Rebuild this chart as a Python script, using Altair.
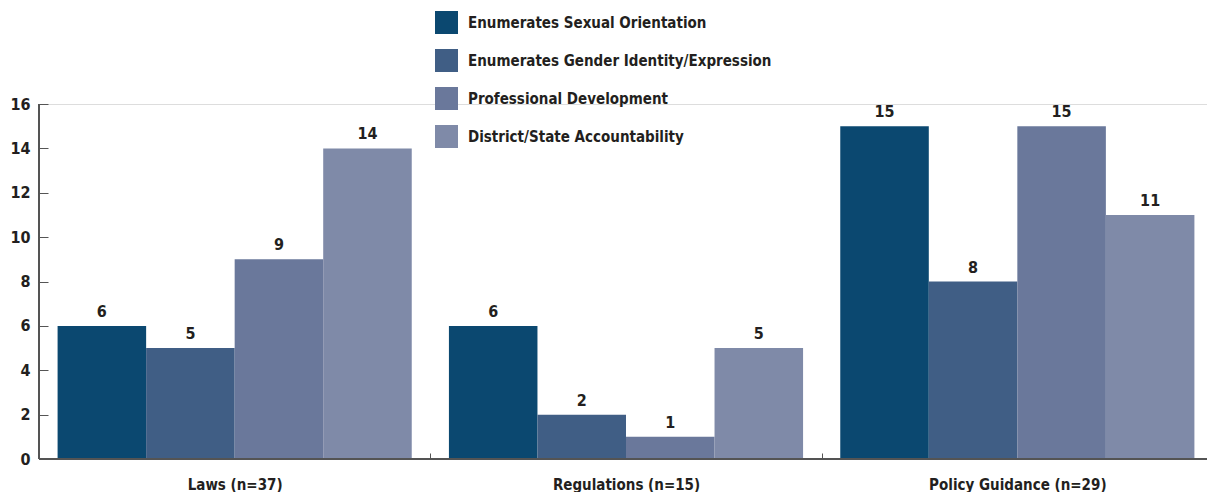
import altair as alt
import pandas as pd

groups = ["Laws (n=37)", "Regulations (n=15)", "Policy Guidance (n=29)"]
series = [
    "Enumerates Sexual Orientation",
    "Enumerates Gender Identity/Expression",
    "Professional Development",
    "District/State Accountability",
]
values = {
    "Enumerates Sexual Orientation": [6, 6, 15],
    "Enumerates Gender Identity/Expression": [5, 2, 8],
    "Professional Development": [9, 1, 15],
    "District/State Accountability": [14, 5, 11],
}
colors = ["#0b4870", "#405e85", "#6a789b", "#7f8aa8"]

rows = []
for s in series:
    for g, v in zip(groups, values[s]):
        rows.append({"group": g, "series": s, "value": v})
df = pd.DataFrame(rows)

FONT = "Liberation Sans Narrow, DejaVu Sans Condensed, sans-serif"
TXT = "#231f20"
W, H = 1174, 355

x = alt.X("group:N", sort=groups, title=None,
          scale=alt.Scale(paddingInner=0, paddingOuter=0),
          axis=alt.Axis(labelAngle=0, domain=False, tickBand="extent",
                        tickSize=6, offset=-6, tickColor="#555", tickWidth=1,
                        labelPadding=18, labelFont=FONT, labelFontSize=15,
                        labelFontWeight="bold", labelColor=TXT))
xo = alt.XOffset("series:N", sort=series,
                 scale=alt.Scale(paddingInner=0, paddingOuter=0.21))
y = alt.Y("value:Q", title=None,
          scale=alt.Scale(domain=[0, 16], nice=False),
          axis=alt.Axis(values=list(range(0, 17, 2)), domain=False, grid=False,
                        tickSize=9, offset=-9, tickColor="#555", tickWidth=1,
                        labelPadding=9, labelFont=FONT, labelFontSize=16,
                        labelFontWeight="bold", labelColor=TXT))

bars = alt.Chart(df).mark_bar().encode(
    x=x, xOffset=xo, y=y,
    color=alt.Color("series:N", sort=series,
                    scale=alt.Scale(domain=series, range=colors),
                    legend=alt.Legend(title=None, orient="none", legendX=396, legendY=-93,
                                      symbolType="square", symbolSize=529,
                                      symbolStrokeWidth=0, symbolOpacity=1,
                                      rowPadding=15, labelOffset=10,
                                      labelFont=FONT, labelFontSize=15,
                                      labelFontWeight="bold", labelColor=TXT,
                                      labelLimit=400)),
)

labels = alt.Chart(df).mark_text(
    baseline="bottom", dy=-6, font=FONT, fontSize=16, fontWeight="bold", color=TXT
).encode(x=alt.X("group:N", sort=groups), xOffset=alt.XOffset("series:N", sort=series),
         y="value:Q", text="value:Q")

base_line = alt.Chart(df).mark_rule(color="#555", strokeWidth=1.5).encode(
    y=alt.datum(0)
)
left_line = alt.Chart(df).mark_rule(color="#555", strokeWidth=1.5).encode(
    x=alt.value(0), y=alt.value(0), y2=alt.value(H)
)

chart = alt.layer(bars, labels, base_line, left_line).properties(
    width=W, height=H,
    autosize=alt.AutoSizeParams(type="none"),
    padding={"left": 31, "top": 96, "right": -6, "bottom": 34},
).configure_view(stroke=None).configure(background="white")

chart.save("out.html", embed_options={"renderer": "svg", "actions": False})
